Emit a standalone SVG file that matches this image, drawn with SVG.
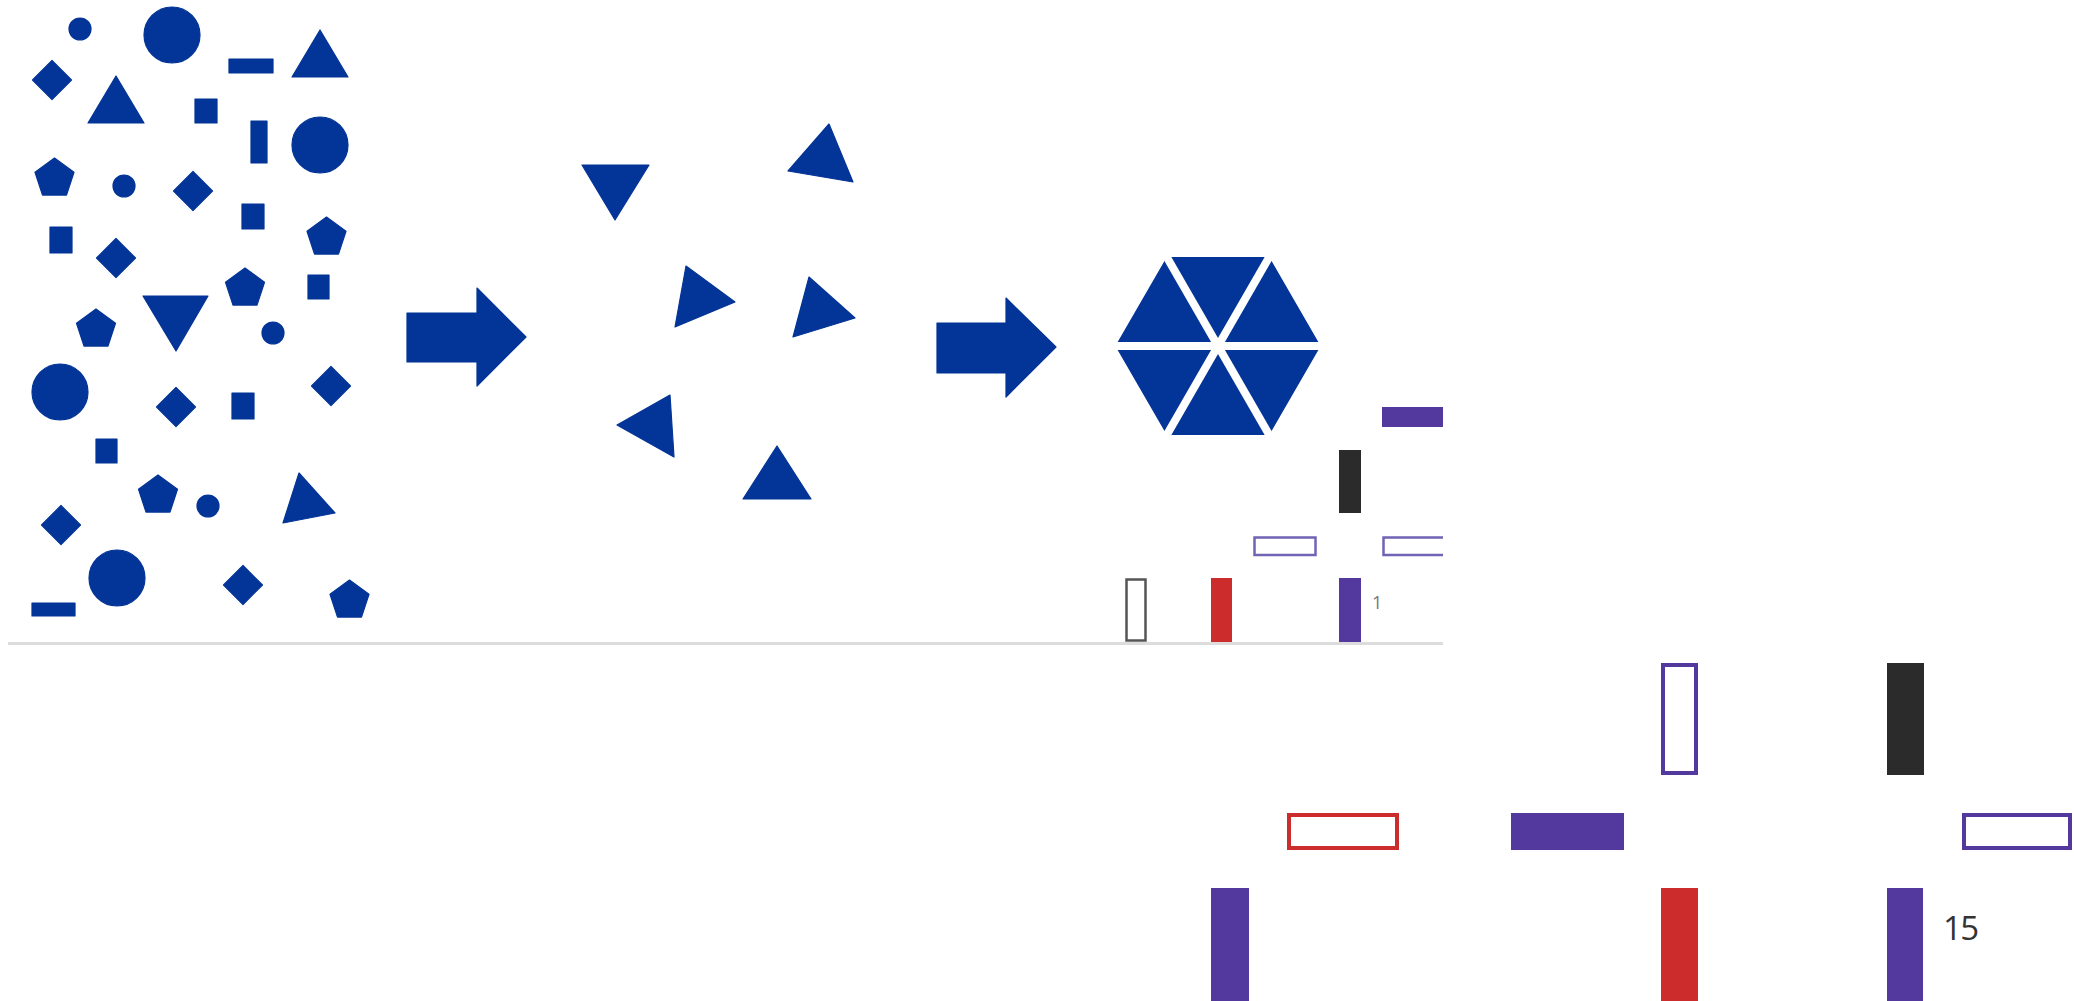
<svg xmlns="http://www.w3.org/2000/svg" width="2074" height="1001" viewBox="0 0 2074 1001">
<style>
.b{fill:#033497;stroke:#033497;stroke-width:1.2;stroke-linejoin:round}
.pu{fill:#53389e}
.rd{fill:#cd2c2c}
.bk{fill:#2b2b2b}
.puo{fill:none;stroke:#53389e;stroke-width:4}
.rdo{fill:none;stroke:#cd2c2c;stroke-width:4}
.pus{fill:none;stroke:#7163b4;stroke-width:2.5}
.gro{fill:none;stroke:#555;stroke-width:2.5}
.gap{stroke:#fff;stroke-width:8}
</style>
<defs>
<polygon id="pent" points="0,-20.5 19.5,-6.3 12,16.6 -12,16.6 -19.5,-6.3"/>
<polygon id="dia" points="0,-19.5 19.5,0 0,19.5 -19.5,0"/>
</defs>
<rect width="2074" height="1001" fill="#fff"/>

<g id="left-shapes" class="b">
<circle cx="80" cy="29" r="11"/>
<circle cx="124" cy="186" r="11"/>
<circle cx="273" cy="333" r="11"/>
<circle cx="208" cy="506" r="11"/>
<circle cx="172" cy="35" r="28"/>
<circle cx="320" cy="145" r="28"/>
<circle cx="60" cy="392" r="28"/>
<circle cx="117" cy="578" r="28"/>
<rect x="229" y="59" width="44" height="14"/>
<rect x="251" y="121" width="16" height="42"/>
<rect x="32" y="603" width="43" height="13"/>
<rect x="195" y="99" width="22" height="24"/>
<rect x="242" y="204" width="22" height="25"/>
<rect x="308" y="275" width="21" height="24"/>
<rect x="50" y="227" width="22" height="26"/>
<rect x="232" y="393" width="22" height="26"/>
<rect x="96" y="439" width="21" height="24"/>
<use href="#dia" x="52" y="80"/>
<use href="#dia" x="193" y="191"/>
<use href="#dia" x="116" y="258"/>
<use href="#dia" x="176" y="407"/>
<use href="#dia" x="331" y="386"/>
<use href="#dia" x="61" y="525"/>
<use href="#dia" x="243" y="585"/>
<use href="#pent" x="54.5" y="178.5"/>
<use href="#pent" x="326.5" y="237.5"/>
<use href="#pent" x="245" y="288.5"/>
<use href="#pent" x="96" y="329.5"/>
<use href="#pent" x="158" y="495.5"/>
<use href="#pent" x="349.5" y="600.5"/>
<polygon points="116,76 88,123 144,123"/>
<polygon points="320,30 292,77 348,77"/>
<polygon points="143,296 208,296 176,351"/>
<polygon points="299,473 335,513 283,523"/>
</g>

<g id="connectors" class="b">
<polygon id="arrow-1" points="407,313 477,313 477,288 526,337 477,386 477,362 407,362"/>
<polygon id="arrow-2" points="937,323 1006,323 1006,298 1056,347 1006,397 1006,373 937,373"/>
</g>

<g id="middle-triangles" class="b">
<polygon points="582,165 649,165 615,220"/>
<polygon points="829,124 788,171 853,182"/>
<polygon points="686,266 735,302 675,327"/>
<polygon points="809,277 855,318 793,337"/>
<polygon points="670,395 617,425 674,457"/>
<polygon points="777,446 743,499 811,499"/>
</g>

<g id="hexagon">
<polygon class="b" points="1320,346 1269,257.7 1167,257.7 1116,346 1167,434.3 1269,434.3"/>
<line class="gap" x1="1112" y1="346" x2="1324" y2="346"/>
<line class="gap" x1="1165" y1="254" x2="1271" y2="438"/>
<line class="gap" x1="1271" y1="254" x2="1165" y2="438"/>
</g>

<g id="top-panel">
<rect class="pu" x="1382" y="407" width="61" height="20"/>
<rect class="bk" x="1339" y="450" width="22" height="63"/>
<rect class="pus" x="1254.5" y="537.5" width="61" height="17.5"/>
<path class="pus" d="M1443,537.5 H1383.5 V555 H1443"/>
<rect class="gro" x="1126.5" y="579.5" width="19" height="61"/>
<rect class="rd" x="1211" y="578" width="21" height="64"/>
<rect class="pu" x="1339" y="578" width="22" height="64"/>
<text x="1372" y="609" font-family="Open Sans, sans-serif" font-size="18" fill="#777">1</text>
<line x1="8" y1="643.5" x2="1443" y2="643.5" stroke="#dcdcdc" stroke-width="3"/>
</g>

<g id="bottom-panel">
<rect class="puo" x="1663" y="665" width="33" height="108"/>
<rect class="bk" x="1887" y="663" width="37" height="112"/>
<rect class="rdo" x="1289" y="815" width="108" height="33"/>
<rect class="pu" x="1511" y="813" width="113" height="37"/>
<rect class="puo" x="1964" y="815" width="106" height="33"/>
<rect class="pu" x="1211" y="888" width="38" height="113"/>
<rect class="rd" x="1661" y="888" width="37" height="113"/>
<rect class="pu" x="1887" y="888" width="36" height="113"/>
<text x="1943" y="940" font-family="Open Sans, sans-serif" font-size="33" letter-spacing="-1.5" fill="#333">15</text>
</g>
</svg>
